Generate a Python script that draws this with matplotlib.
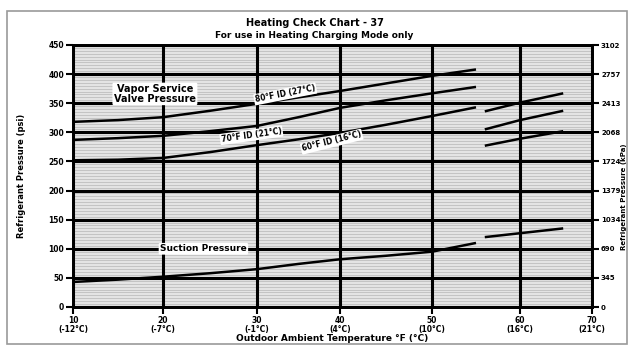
import numpy as np
import matplotlib
matplotlib.use("Agg")
import matplotlib.pyplot as plt
from matplotlib.patches import Rectangle

# ---- data ----
title = "Heating Check Chart - 37"
subtitle = "For use in Heating Charging Mode only"
x_ticks_f = [10, 20, 30, 40, 50, 60, 70]
x_ticks_c = ["(-12°C)", "(-7°C)", "(-1°C)", "(4°C)", "(10°C)", "(16°C)", "(21°C)"]
y_ticks_psi = [0, 50, 100, 150, 200, 250, 300, 350, 400, 450]
y_ticks_kpa = ["0", "345", "690", "1034", "1379", "1724", "2068", "2413", "2757", "3102"]

temps_main = [10, 15, 20, 25, 30, 35, 40, 45, 50, 55]
id80 = [318, 321, 326, 337, 349, 360, 371, 384, 397, 408]
id70 = [287, 290, 294, 302, 311, 326, 342, 355, 367, 378]
id60 = [252, 253, 256, 266, 278, 288, 299, 313, 328, 343]
suction = [43, 47, 52, 58, 65, 74, 82, 88, 95, 110]

temps_right = [56, 60, 66]
id80_r = [336, 351, 367]
id70_r = [305, 321, 337]
id60_r = [277, 289, 302]
temps_suct_r = [56, 66]
suction_r = [120, 135]

stripe_levels = np.arange(0, 451, 5)

# tick positions of the original (slightly uneven) temperature grid
grid_pos = [73, 163, 257, 340, 432, 520, 592]

W, H = 629, 356
fig = plt.figure(figsize=(W / 100, H / 100), dpi=100)
fig.patch.set_facecolor("white")
fig.add_artist(Rectangle((7 / W, 1 - 344 / H), 620 / W, 333 / H, transform=fig.transFigure,
                         facecolor="none", edgecolor="#9a9a9a", lw=1.2))

ax = fig.add_axes([73 / W, 1 - 307 / H, (592 - 73) / W, (307 - 45) / H])

def fwd(x):
    return np.interp(x, x_ticks_f, grid_pos)

def inv(p):
    return np.interp(p, grid_pos, x_ticks_f)

ax.set_xscale("function", functions=(fwd, inv))
ax.set_xlim(10, 70)
ax.set_ylim(0, 450)
ax.set_facecolor("#e4e4e4")

# thin horizontal stripes beneath the major grid
ax.hlines(stripe_levels, 10, 70, color="#c4c4c4", lw=0.7, zorder=0.2)
ax.grid(True, which="major", color="black", lw=2.2)
ax.set_axisbelow(True)

ax.set_xticks(x_ticks_f)
ax.set_xticklabels([f"{f}\n{c}" for f, c in zip(x_ticks_f, x_ticks_c)],
                   fontsize=5.5, fontweight="bold", linespacing=0.95)
ax.set_yticks(y_ticks_psi)
ax.set_yticklabels([str(v) for v in y_ticks_psi], fontsize=5.5, fontweight="bold")
ax.tick_params(which="major", length=5, width=1.5, pad=1.5)
for s in ax.spines.values():
    s.set_linewidth(2)

ax2 = ax.twinx()
ax2.set_ylim(0, 450)
ax2.set_yticks(y_ticks_psi)
ax2.set_yticklabels(y_ticks_kpa, fontsize=5, fontweight="bold")
ax2.tick_params(which="major", length=5, width=1.5, pad=1.5)
for s in ax2.spines.values():
    s.set_linewidth(2)

ax.set_xlabel("Outdoor Ambient Temperature °F (°C)", fontsize=6.5, fontweight="bold", labelpad=0)
ax.set_ylabel("Refrigerant Pressure (psi)", fontsize=6, fontweight="bold", labelpad=16)
ax2.set_ylabel("Refrigerant Pressure (kPa)", fontsize=5, fontweight="bold")
ax2.yaxis.set_label_coords(1.056, 0.42)

lw = 1.8
for series in (id80, id70, id60, suction):
    ax.plot(temps_main, series, color="black", lw=lw, solid_capstyle="butt")
for series in (id80_r, id70_r, id60_r):
    ax.plot(temps_right, series, color="black", lw=lw, solid_capstyle="butt")
ax.plot(temps_suct_r, suction_r, color="black", lw=lw, solid_capstyle="butt")

box = dict(facecolor="white", edgecolor="none", boxstyle="round,pad=0.15")
ax.text(19.1, 366, "Vapor Service\nValve Pressure", fontsize=7, fontweight="bold",
        ha="center", va="center", linespacing=0.95, bbox=box, zorder=5)
ax.text(24.3, 100, "Suction Pressure", fontsize=6.5, fontweight="bold",
        ha="center", va="center", bbox=box, zorder=5)
ax.text(33.4, 366, "80°F ID (27°C)", fontsize=5.5, fontweight="bold", rotation=11,
        ha="center", va="center", bbox=box, zorder=5)
ax.text(29.4, 295, "70°F ID (21°C)", fontsize=5.5, fontweight="bold", rotation=8,
        ha="center", va="center", bbox=box, zorder=5)
ax.text(39.0, 284, "60°F ID (16°C)", fontsize=5.5, fontweight="bold", rotation=14,
        ha="center", va="center", bbox=box, zorder=5)

fig.text(0.5, 1 - 23 / H, title, fontsize=7, fontweight="bold", ha="center", va="center")
fig.text(0.5, 1 - 35 / H, subtitle, fontsize=6.5, fontweight="bold", ha="center", va="center")

fig.savefig("out.png", dpi=100)
